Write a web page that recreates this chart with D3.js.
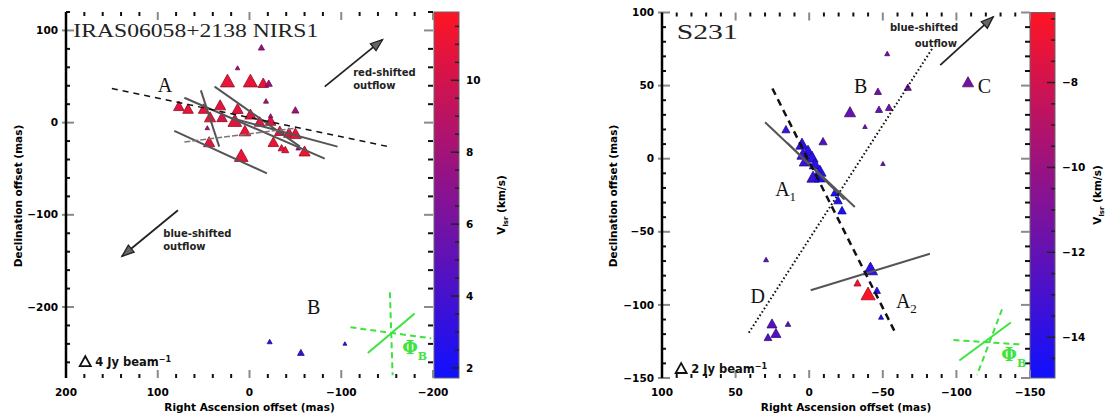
<!DOCTYPE html>
<html><head><meta charset="utf-8">
<script src="https://cdn.jsdelivr.net/npm/d3@7"></script>
<style>body{margin:0;background:#fff}svg{display:block}</style>
</head><body>
<svg id="c" width="1115" height="417"></svg>
<script>
// ---------------- LEFT PANEL DATA (IRAS06058+2138 NIRS1) ----------------
const leftTitle = "IRAS06058+2138  NIRS1";
const leftXTickLabels = [200, 100, 0, -100, -200];
const leftYTickLabels = [100, 0, -100, -200];
const leftCbTickLabels = [2, 4, 6, 8, 10];
const leftRA   = [-13, 13, 24, -1, -15, -21, -18, 77, 67, 50, 32, 13, 43, 30, 16, -1, 5, -11, -23, -23, -50, -33, -43, -50, -26, -35, -39, 44, 9, 46, -53, -60, -22, -56, -104];
const leftDec  = [81, 59, 44, 44, 42, 42, 23, 17, 14, 14, 18, 14, 5, 5, 1, 8, -10, 0, 1, 7, 13, -10, -12, -13, -22, -28, -30, -22, -37, -6, -28, -32, -238, -250, -240];
const leftVlsr = [7.5, 8, 10.9, 11, 10.8, 8, 8, 10.8, 11, 11, 10.8, 10.8, 11, 10.3, 10.8, 10.8, 11, 10.8, 10.8, 8, 7.8, 10.8, 10.8, 11, 11, 11, 11, 10.8, 11, 8, 7.8, 11.5, 3.3, 3.5, 3];
const leftFlux = [1.5, 0.8, 8, 8, 4.5, 2, 1, 4.5, 4.5, 4.5, 5, 5, 5, 4.5, 7.5, 5, 5.5, 4.5, 4.5, 0.8, 2, 4.5, 4.5, 5.5, 4.5, 2, 2, 5, 7.5, 0.8, 0.8, 5, 1, 1.8, 0.6];
// polarization vectors (gray) : [x1, y1, x2, y2] in mas
const leftVectors = [[71, 27, -82, -39], [38, 39, -55, -26], [53, 35, 33, -26], [82, -9, -19, -55], [20, 5, -96, -26]];
const leftThinVectors = [[71, -21, -50, -6]];
const leftDashed = [[150, 37, -151, -26]];
const leftGreenSolid = [[-129, -250, -180, -207]];
const leftGreenDashed = [[-153, -184, -156, -274], [-110, -222, -198, -234]];
const leftArrows = [[-82, 39, -145, 90], [78, -95, 139, -145]];

// ---------------- RIGHT PANEL DATA (S231) ----------------
const rightTitle = "S231";
const rightXTickLabels = [100, 50, 0, -50, -100, -150];
const rightYTickLabels = [100, 50, 0, -50, -100, -150];
const rightCbTickLabels = [-14, -12, -10, -8];
const rightRA   = [-53, -46.7, -67, -27.7, -47.4, -54.2, -37.9, -50.1, -107.9, -9.4, 15.8, 4.9, 0.8, 4.2, -1.9, 2.9, -3.9, -7.3, -2.6, -7.3, -17.5, -19.6, -22.3, 29.3, -41.6, -32.8, -40, -46, -48.8, 25.3, 14.4, 22.6, 28];
const rightDec  = [71.6, 45.6, 48.4, 31.3, 33.3, 34.7, 21.7, -3.6, 51.8, 11.4, 19.6, 9.4, 4.6, 2.5, 0.5, -2.3, -4.3, -9.1, -13.2, -13.2, -23.5, -28.9, -35.8, -69.3, -76.1, -85.4, -93.2, -90.5, -108.6, -113.4, -113.4, -119.9, -122.6];
const rightVlsr = [-11.5, -11.5, -11.5, -11.8, -11.8, -11.5, -11.5, -11.5, -11.3, -12.5, -13.5, -14, -14, -13.5, -14, -13.5, -14, -14.2, -13.5, -14.5, -14.5, -14.5, -14.5, -12.3, -14, -6.8, -6.5, -14.2, -14.5, -12.5, -12.3, -12.5, -12.5];
const rightFlux = [0.5, 1, 1, 2.5, 1, 1, 0.4, 0.4, 2.5, 1.3, 1.3, 3, 3, 3, 3, 2.6, 2.6, 3, 3, 2.6, 1.4, 1.4, 1.4, 0.5, 4, 1, 4, 1, 0.5, 2, 0.6, 2, 1.2];
const rightVectors = [[30, 25, -31, -33], [15, 11, -24, -28], [-1, -90, -82, -65]];
const rightThinVectors = [];
const rightDashed = [[25, 48, -58, -118]];
const rightDotted = [[41, -119, -84, 76]];
const rightGreenSolid = [[-102, -138, -137, -112]];
const rightGreenDashed = [[-131, -103, -114, -148], [-98, -124, -143, -127]];
const rightArrows = [[-89, 64, -125, 97]];

const svg = d3.select("#c");
const defs = svg.append("defs");
const fmt = d3.format("d");
const TICKFONT = "DejaVu Sans";
const SERIF = "Liberation Serif";
const GREEN = "#3de43d";

function triPath(side) {
  const h = side * 0.9;
  return `M0,${-h * 0.62}L${-side / 2},${h * 0.38}L${side / 2},${h * 0.38}Z`;
}

function drawPanel(p) {
  const g = svg.append("g");
  const x = d3.scaleLinear().domain(p.xDom).range(p.xR);
  const y = d3.scaleLinear().domain(p.yDom).range(p.yR);
  const col = d3.scaleLinear().domain(p.vDom).range(["#1010ff", "#ff1424"]).interpolate(d3.interpolateRgb);
  const size = d3.scaleSqrt().domain([0, p.legFlux]).range([0, 10]);
  const [X0, X1] = p.xR, [Y0, Y1] = p.yR;

  // colorbar
  const cy = d3.scaleLinear().domain(p.vDom).range([Y1, Y0]);
  const grad = defs.append("linearGradient").attr("id", p.id + "grad").attr("x1", 0).attr("x2", 0).attr("y1", 1).attr("y2", 0);
  d3.range(0, 1.0001, 0.1).forEach(t => grad.append("stop").attr("offset", t).attr("stop-color", col(p.vDom[0] + t * (p.vDom[1] - p.vDom[0]))));
  g.append("rect").attr("x", p.cbX).attr("y", Y0).attr("width", p.cbW).attr("height", Y1 - Y0)
    .attr("fill", `url(#${p.id}grad)`).attr("stroke", "#666").attr("stroke-width", 1);
  const cbLo = Math.ceil(Math.min(...p.vDom) * 2) / 2, cbHi = Math.max(...p.vDom);
  d3.range(cbLo, cbHi + 1e-9, 0.5).forEach(v => {
    const major = Math.abs(v % 2) < 1e-9;
    g.append("line").attr("x1", p.cbX + p.cbW).attr("x2", p.cbX + p.cbW - (major ? 8 : 4))
      .attr("y1", cy(v)).attr("y2", cy(v)).attr("stroke", "#222").attr("stroke-width", 1.5);
  });
  p.cbLabels.forEach(v => {
    g.append("text").attr("x", p.cbX + p.cbW + 7).attr("y", cy(v)).attr("dy", "0.35em")
      .attr("font-family", TICKFONT).attr("font-weight", "bold").attr("font-size", 10.5).text(fmt(v));
  });
  const ct = g.append("text").attr("transform", `translate(${p.cbX + p.cbW + 46},${p.cbTitleY}) rotate(-90)`)
    .attr("text-anchor", "middle").attr("font-family", TICKFONT).attr("font-weight", "bold").attr("font-size", 10.5);
  ct.append("tspan").text("V");
  ct.append("tspan").attr("font-size", 7).attr("dy", 3).text("lsr");
  ct.append("tspan").attr("dy", -3).text(" (km/s)");

  // ticks
  const rng = (dom, step) => d3.range(Math.ceil(Math.min(...dom) / step) * step, Math.max(...dom) + 1e-9, step);
  rng(p.xDom, p.minor).forEach(v => {
    const major = v % p.major === 0;
    const len = major ? 8 : 4, c = major ? "#8a8a8a" : "#111";
    g.append("line").attr("x1", x(v)).attr("x2", x(v)).attr("y1", Y0).attr("y2", Y0 + len).attr("stroke", c).attr("stroke-width", 2);
    g.append("line").attr("x1", x(v)).attr("x2", x(v)).attr("y1", Y1).attr("y2", Y1 - len).attr("stroke", c).attr("stroke-width", 2);
  });
  rng(p.yDom, p.minor).forEach(v => {
    const major = v % p.major === 0;
    const c = major ? "#8a8a8a" : "#111";
    g.append("line").attr("x1", major ? X0 - 4 : X0).attr("x2", X0 + (major ? 8 : 4)).attr("y1", y(v)).attr("y2", y(v)).attr("stroke", c).attr("stroke-width", 2);
    g.append("line").attr("x1", X1).attr("x2", X1 - (major ? 9 : 5)).attr("y1", y(v)).attr("y2", y(v)).attr("stroke", c).attr("stroke-width", 2);
  });
  g.append("line").attr("x1", X0).attr("x2", X0).attr("y1", Y0).attr("y2", Y1).attr("stroke", "#000").attr("stroke-width", 2.5);

  p.xLabels.forEach(v => g.append("text").attr("x", x(v)).attr("y", 396).attr("text-anchor", "middle")
    .attr("font-family", TICKFONT).attr("font-weight", "bold").attr("font-size", 10.5).text(fmt(v)));
  p.yLabels.forEach(v => g.append("text").attr("x", X0 - 8).attr("y", y(v)).attr("dy", "0.35em").attr("text-anchor", "end")
    .attr("font-family", TICKFONT).attr("font-weight", "bold").attr("font-size", 10.5).text(fmt(v)));
  g.append("text").attr("x", (X0 + X1) / 2).attr("y", 411).attr("text-anchor", "middle")
    .attr("font-family", TICKFONT).attr("font-weight", "bold").attr("font-size", 10.5).text("Right Ascension offset (mas)");
  g.append("text").attr("transform", `translate(${p.yTitleX},196) rotate(-90)`).attr("text-anchor", "middle")
    .attr("font-family", TICKFONT).attr("font-weight", "bold").attr("font-size", 10.5).text("Declination offset (mas)");

  // triangles
  const order = d3.range(p.ra.length);
  g.append("g").selectAll("path").data(order).join("path")
    .attr("transform", i => `translate(${x(p.ra[i])},${y(p.dec[i])})`)
    .attr("d", i => triPath(size(p.flux[i])))
    .attr("fill", i => col(p.vlsr[i]))
    .attr("stroke", i => d3.color(col(p.vlsr[i])).darker(1.3))
    .attr("stroke-width", 0.8);

  const seg = (arr, stroke, w, dash) => arr.forEach(d => g.append("line")
    .attr("x1", x(d[0])).attr("y1", y(d[1])).attr("x2", x(d[2])).attr("y2", y(d[3]))
    .attr("stroke", stroke).attr("stroke-width", w).attr("stroke-dasharray", dash || null));
  seg(p.vectors, "#555", 2);
  seg(p.thin, "#777", 1.5, "6,2");
  seg(p.dashed, "#111", p.dashW, p.dashPat);
  seg(p.dotted || [], "#111", 2, "1.6,2.4");
  seg(p.greenSolid, GREEN, 2);
  seg(p.greenDashed, GREEN, 2, "6,4");

  // arrows
  p.arrows.forEach(d => {
    const x1 = x(d[0]), y1 = y(d[1]), x2 = x(d[2]), y2 = y(d[3]);
    const a = Math.atan2(y2 - y1, x2 - x1), L = 12, Wd = 4.5;
    g.append("line").attr("x1", x1).attr("y1", y1).attr("x2", x2).attr("y2", y2).attr("stroke", "#222").attr("stroke-width", 1.8);
    const bx = x2 - L * Math.cos(a), by = y2 - L * Math.sin(a);
    g.append("path").attr("d", `M${x2},${y2}L${bx + Wd * Math.sin(a)},${by - Wd * Math.cos(a)}L${bx - Wd * Math.sin(a)},${by + Wd * Math.cos(a)}Z`)
      .attr("fill", "#666").attr("stroke", "#222").attr("stroke-width", 1.3);
  });

  // annotations
  g.append("text").attr("x", x(p.title[1])).attr("y", y(p.title[2])).attr("dy", "0.35em")
    .attr("font-family", SERIF).attr("font-size", p.titleSize).attr("textLength", p.titleLen).attr("lengthAdjust", "spacingAndGlyphs")
    .attr("fill", "#222").text(p.title[0]);
  p.letters.forEach(d => {
    const t = g.append("text").attr("x", x(d[1])).attr("y", y(d[2])).attr("dy", "0.35em").attr("text-anchor", "middle")
      .attr("font-family", SERIF).attr("font-size", 20).attr("fill", "#111");
    t.append("tspan").text(d[0]);
    if (d[3]) t.append("tspan").attr("font-size", 13).attr("dy", 5).text(d[3]);
  });
  const phi = g.append("text").attr("x", x(p.phi[0])).attr("y", y(p.phi[1])).attr("dy", "0.35em").attr("text-anchor", "middle")
    .attr("font-family", "DejaVu Serif").attr("font-weight", "bold").attr("font-size", 18).attr("fill", GREEN);
  phi.append("tspan").text("Φ");
  phi.append("tspan").attr("font-size", 11).attr("dy", 6).text("B");
  p.notes.forEach(d => g.append("text").attr("x", x(d[1])).attr("y", y(d[2])).attr("dy", "0.35em").attr("text-anchor", d[3])
    .attr("font-family", TICKFONT).attr("font-weight", "bold").attr("font-size", 10).attr("fill", "#222").text(d[0]));
  // legend
  g.append("path").attr("transform", `translate(${x(p.leg[0])},${y(p.leg[1])})`).attr("d", triPath(11))
    .attr("fill", "none").attr("stroke", "#111").attr("stroke-width", 1.8);
  const lt = g.append("text").attr("x", x(p.leg[0]) + 10).attr("y", y(p.leg[1])).attr("dy", "0.35em")
    .attr("font-family", TICKFONT).attr("font-weight", "bold").attr("font-size", 11.5).attr("fill", "#111");
  lt.append("tspan").text(p.leg[2] + " Jy beam");
  lt.append("tspan").attr("font-size", 8).attr("dy", -4).text("−1");
}

drawPanel({
  id: "L", xDom: [200, -200], xR: [66, 433], yDom: [120, -277], yR: [12, 378],
  minor: 20, major: 100, xLabels: leftXTickLabels, yLabels: leftYTickLabels, yTitleX: 22,
  vDom: [1.72, 11.9], cbX: 434, cbW: 25, cbLabels: leftCbTickLabels, cbTitleY: 205, legFlux: 4,
  ra: leftRA, dec: leftDec, vlsr: leftVlsr, flux: leftFlux,
  vectors: leftVectors, thin: leftThinVectors, dashed: leftDashed, dashW: 1.5, dashPat: "6,5",
  greenSolid: leftGreenSolid, greenDashed: leftGreenDashed, arrows: leftArrows,
  title: [leftTitle, 192, 100.5], titleSize: 19, titleLen: 245,
  letters: [["A", 92, 41], ["B", -70, -200]],
  phi: [-180, -244],
  notes: [["red-shifted", -113, 54, "start"], ["outflow", -113, 40, "start"], ["blue-shifted", 94, -120, "start"], ["outflow", 94, -134, "start"]],
  leg: [179, -260, 4]
});

drawPanel({
  id: "R", xDom: [100, -150], xR: [662, 1030], yDom: [100, -150], yR: [12.5, 378],
  minor: 10, major: 50, xLabels: rightXTickLabels, yLabels: rightYTickLabels, yTitleX: 617,
  vDom: [-14.96, -6.35], cbX: 1030, cbW: 25, cbLabels: rightCbTickLabels, cbTitleY: 195, legFlux: 2,
  ra: rightRA, dec: rightDec, vlsr: rightVlsr, flux: rightFlux,
  vectors: rightVectors, thin: rightThinVectors, dashed: rightDashed, dashW: 2.5, dashPat: "7,5", dotted: rightDotted,
  greenSolid: rightGreenSolid, greenDashed: rightGreenDashed, arrows: rightArrows,
  title: [rightTitle, 90, 86.7], titleSize: 21, titleLen: 61,
  letters: [["B", -35, 50], ["C", -119, 50], ["A", 16, -21, "1"], ["D", 35, -94], ["A", -66, -97, "2"]],
  phi: [-139, -134],
  notes: [["blue-shifted", -78, 90, "middle"], ["outflow", -86, 79, "middle"]],
  leg: [87, -144, 2]
});
</script>
</body></html>
